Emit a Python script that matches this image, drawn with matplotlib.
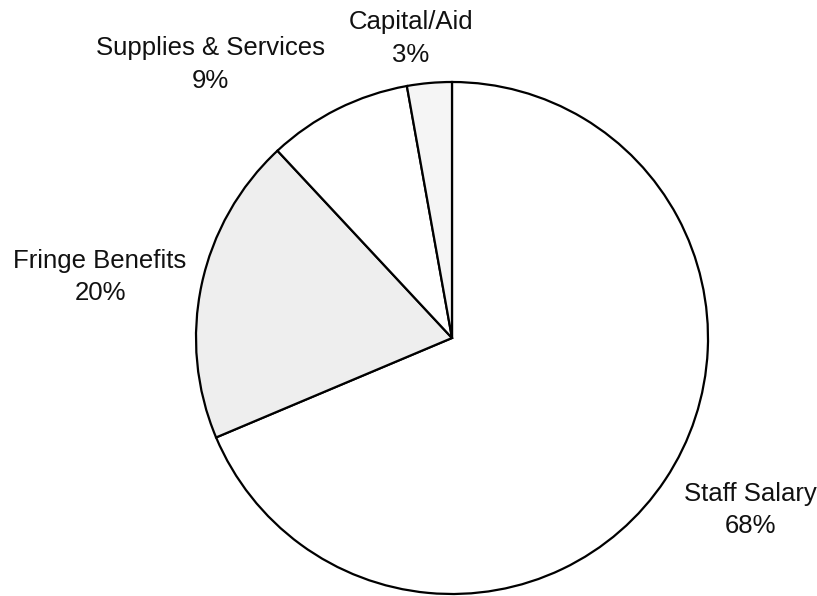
import numpy as np
import matplotlib.pyplot as plt

# ---------------------------------------------------------------
# data
# ---------------------------------------------------------------
categories = ["Staff Salary", "Fringe Benefits", "Supplies & Services", "Capital/Aid"]
shares = [68.65, 19.41, 9.12, 2.82]
pct_labels = ["68%", "20%", "9%", "3%"]
fill_colors = ["#ffffff", "#eeeeee", "#ffffff", "#f5f5f5"]

# label anchor (last-line baseline, data units with pie radius = 1)
label_xy = [(1.166, -0.762), (-1.375, 0.148), (-0.945, 0.977), (-0.160, 1.078)]

plt.rcParams['font.family'] = ['Liberation Sans', 'DejaVu Sans']

fig = plt.figure(figsize=(8.17, 5.96), dpi=100)
ax = fig.add_axes([0, 0, 1, 1])

ax.pie(shares, colors=fill_colors, startangle=90, counterclock=False,
       radius=1.0, wedgeprops=dict(edgecolor='black', linewidth=1.6))

for name, pct, (x, y) in zip(categories, pct_labels, label_xy):
    ax.text(x, y, name + "\n" + pct, ha='center', va='baseline',
            multialignment='center', fontsize=18.5, linespacing=1.45,
            color='#111111')

# centre at (452, 338) px, radius 256 px
ax.set_xlim(-452 / 256, (817 - 452) / 256)
ax.set_ylim(-(596 - 338) / 256, 338 / 256)
ax.set_aspect('equal')
ax.axis('off')

fig.savefig("out.png", dpi=100)
